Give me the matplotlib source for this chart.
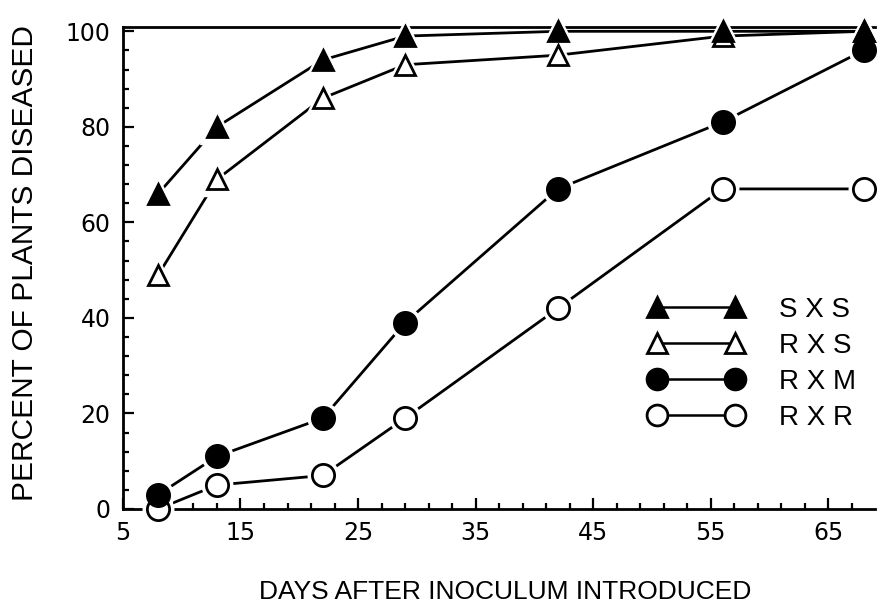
import matplotlib.pyplot as plt

# days after inoculum introduced
days = [8, 13, 22, 29, 42, 56, 68]

# percent of plants diseased
sxs = [66, 80, 94, 99, 100, 100, 100]
rxs = [49, 69, 86, 93, 95, 99, 100]
rxm = [3, 11, 19, 39, 67, 81, 96]
rxr = [0, 5, 7, 19, 42, 67, 67]

series = [
    (sxs, '^', 'black', 'S X S'),
    (rxs, '^', 'white', 'R X S'),
    (rxm, 'o', 'black', 'R X M'),
    (rxr, 'o', 'white', 'R X R'),
]

xticks = [5, 15, 25, 35, 45, 55, 65]
yticks = [0, 20, 40, 60, 80, 100]

plt.rcParams['font.family'] = ['Liberation Sans', 'DejaVu Sans']

fig = plt.figure(figsize=(8.78, 6.03), dpi=100)
ax = fig.add_axes([0.140, 0.156, 0.857, 0.800])

# lines first, then a white halo so the line stops short of each marker
for y, mk, fc, lab in series:
    ax.plot(days, y, '-', color='black', lw=2.0, zorder=2, clip_on=False)
for y, mk, fc, lab in series:
    ms = 15 if mk == '^' else 16
    pad = 10 if mk == '^' else 6
    ax.plot(days, y, linestyle='none', marker=mk, ms=ms + pad,
            mfc='white', mec='white', zorder=3, clip_on=False)
# markers, filled triangles last so they sit on top of the open ones
for i in [3, 2, 1, 0]:
    y, mk, fc, lab = series[i]
    ms = 15 if mk == '^' else 16
    ax.plot(days, y, linestyle='none', marker=mk, ms=ms, mfc=fc,
            mec='black', mew=2.0, zorder=4 + (3 - i), clip_on=False)

# legend entries: marker --- marker
leg_handles = []
for y, mk, fc, lab in series:
    ms = 14 if mk == '^' else 15
    h, = ax.plot([], [], '-', marker=mk, ms=ms, mfc=fc, mec='black',
                 mew=2.0, color='black', lw=1.8)
    leg_handles.append(h)
leg = ax.legend(leg_handles, [s[3] for s in series], numpoints=2,
                handlelength=3.4, handletextpad=1.3, labelspacing=0.36,
                frameon=False, fontsize=20, loc='center right',
                bbox_to_anchor=(1.008, 0.30))

ax.set_xlim(5, 69)
ax.set_ylim(0, 101)
ax.set_xticks(xticks)
ax.set_xticks(list(range(5, 69, 2)), minor=True)
ax.set_yticks(yticks)
ax.set_yticks(list(range(0, 101, 4)), minor=True)

ax.spines['right'].set_visible(False)
for side in ['left', 'bottom', 'top']:
    ax.spines[side].set_linewidth(2.0)

ax.tick_params(which='both', direction='in', top=False, right=False,
               width=1.6)
ax.tick_params(which='major', length=8, pad=9)
ax.tick_params(which='minor', length=4)
for t in ax.get_xticklabels() + ax.get_yticklabels():
    t.set_fontfamily('DejaVu Sans')
    t.set_fontsize(17)

ax.set_xlabel('DAYS AFTER INOCULUM INTRODUCED', fontsize=19)
ax.xaxis.set_label_coords(0.508, -0.147)
ax.set_ylabel('PERCENT OF PLANTS DISEASED', fontsize=21.5)
ax.yaxis.set_label_coords(-0.112, 0.51)

plt.savefig('out.png', dpi=100)
